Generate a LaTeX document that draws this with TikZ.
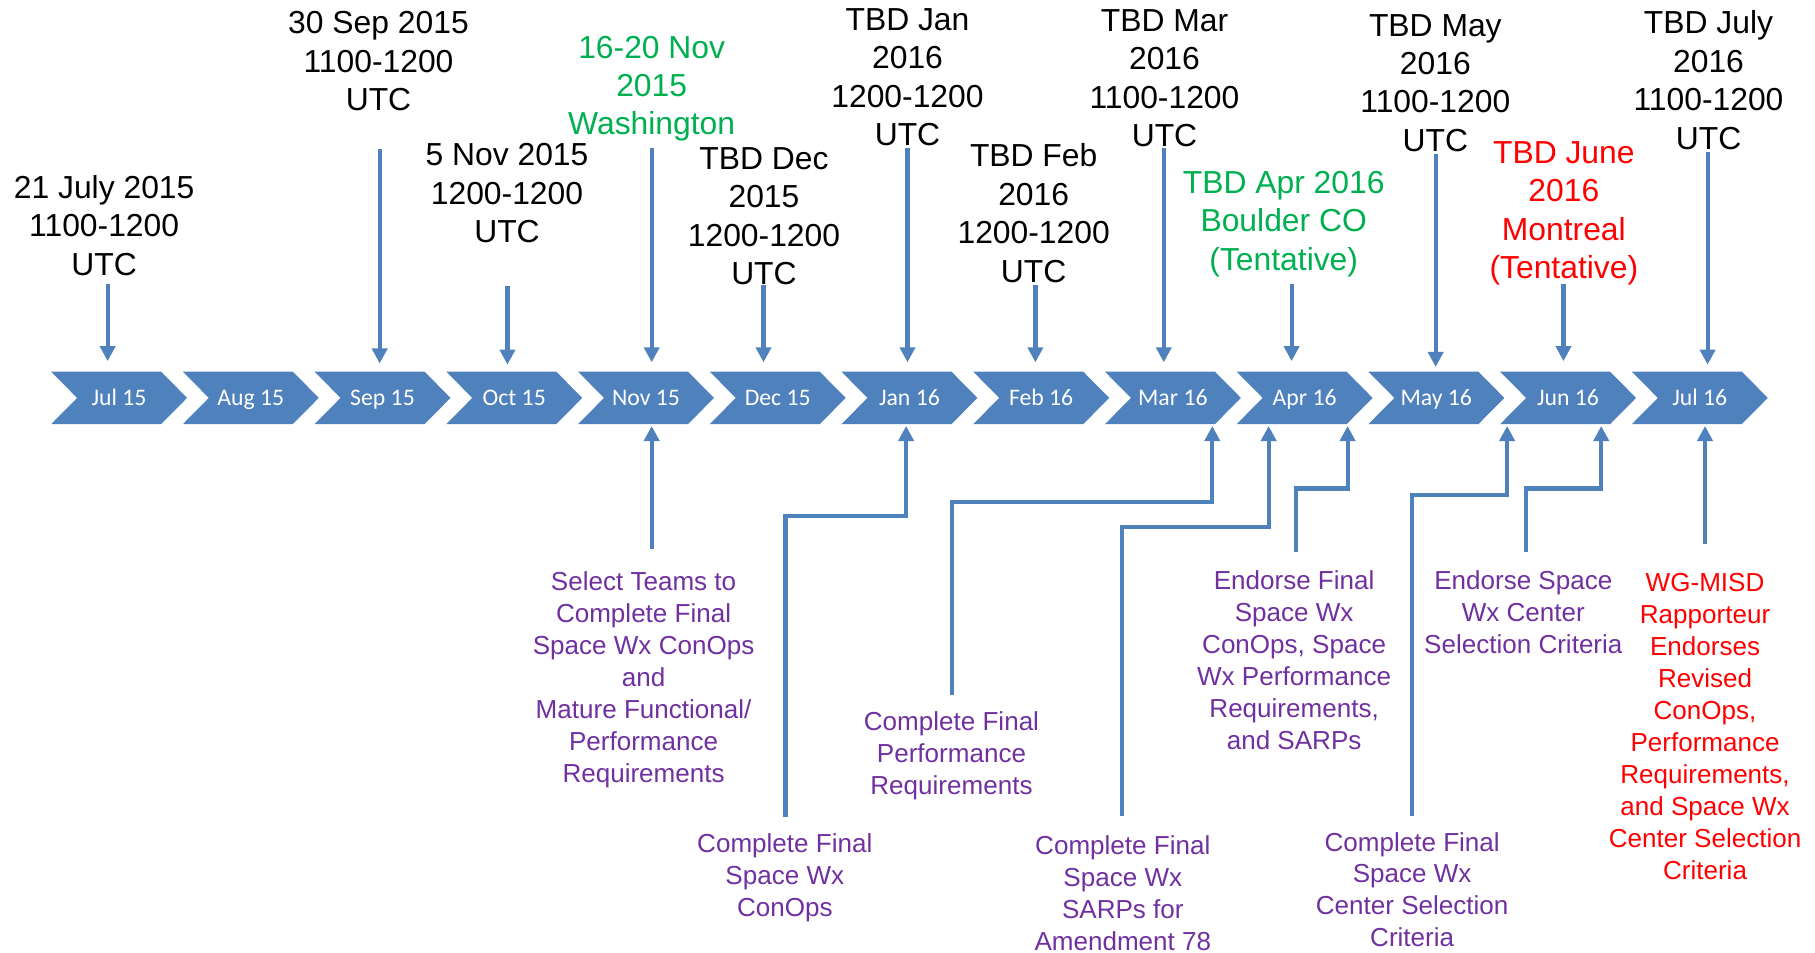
\documentclass[tikz,border=0pt]{standalone}
\usepackage{fontspec}
\setmainfont{Liberation Sans}
\newfontfamily\calib{Carlito}
\usetikzlibrary{arrows.meta}
\definecolor{cblue}{HTML}{4F81BD}
\definecolor{cpurple}{HTML}{7030A0}
\definecolor{cgreen}{HTML}{00B050}
\definecolor{cred}{HTML}{FF0000}
\newcommand{\fst}{\rule{0pt}{0.8em}}
\begin{document}
\begin{tikzpicture}[x=1pt,y=-1pt,
  toptxt/.style={align=center, inner sep=0pt, anchor=north, font=\fontsize{27.5}{33.2}\selectfont},
  bottxt/.style={align=center, inner sep=0pt, anchor=north, font=\fontsize{22.5}{27.6}\selectfont, text=cpurple},
  mon/.style={inner sep=0pt, anchor=base, text=white, font=\calib\fontsize{20.5}{24}\selectfont},
  chev/.style={fill=cblue},
  arr/.style={draw=cblue, line width=3.6pt, -{Triangle[width=13pt,length=13pt]}},
]
\useasboundingbox (0,0) rectangle (1568,823);

% chevrons
\foreach \k/\lab in {0/Jul 15,1/Aug 15,2/Sep 15,3/Oct 15,4/Nov 15,5/Dec 15,6/Jan 16,7/Feb 16,8/Mar 16,9/Apr 16,10/May 16,11/Jun 16,12/Jul 16}{
  \pgfmathsetmacro\L{44.1+113.8*\k}
  \fill[chev] (\L,321) -- (\L+95,321) -- (\L+117.5,343.75) -- (\L+95,366.5) -- (\L,366.5) -- (\L+22.5,343.75) -- cycle;
  \node[mon] (m\k) at (\L+58.75,350.4) {\lab};
}

% top texts
\node[toptxt] (d1) at (90,149) {\fst 21 July 2015\\1100-1200\\UTC};
\node[toptxt] (d2) at (327,7) {\fst 30 Sep 2015\\1100-1200\\UTC};
\node[toptxt] (d3) at (438,121) {\fst 5 Nov 2015\\1200-1200\\UTC};
\node[toptxt,text=cgreen] (d4) at (563,28) {\fst 16-20 Nov\\2015\\Washington};
\node[toptxt] (d5) at (660,124) {\fst TBD Dec\\2015\\1200-1200\\UTC};
\node[toptxt] (d6) at (784,4) {\fst TBD Jan\\2016\\1200-1200\\UTC};
\node[toptxt] (d7) at (893,122) {\fst TBD Feb\\2016\\1200-1200\\UTC};
\node[toptxt] (d8) at (1006,5) {\fst TBD Mar\\2016\\1100-1200\\UTC};
\node[toptxt,text=cgreen] (d9) at (1109,145) {\fst TBD Apr 2016\\Boulder CO\\(Tentative)};
\node[toptxt] (d10) at (1240,9) {\fst TBD May\\2016\\1100-1200\\UTC};
\node[toptxt,text=cred] (d11) at (1351,119) {\fst TBD June\\2016\\Montreal\\(Tentative)};
\node[toptxt] (d12) at (1476,7) {\fst TBD July\\2016\\1100-1200\\UTC};

% bottom texts
\node[bottxt] (e1) at (556,492) {\fst Select Teams to\\Complete Final\\Space Wx ConOps\\and\\Mature Functional/\\Performance\\Requirements};
\node[bottxt] (e2) at (678,718) {\fst Complete Final\\Space Wx\\ConOps};
\node[bottxt] (e3) at (822,613) {\fst Complete Final\\Performance\\Requirements};
\node[bottxt] (e4) at (970,720) {\fst Complete Final\\Space Wx\\SARPs for\\Amendment 78};
\node[bottxt] (e5) at (1118,491) {\fst Endorse Final\\Space Wx\\ConOps, Space\\Wx Performance\\Requirements,\\and SARPs};
\node[bottxt] (e6) at (1220,717) {\fst Complete Final\\Space Wx\\Center Selection\\Criteria};
\node[bottxt] (e7) at (1316,491) {\fst Endorse Space\\Wx Center\\Selection Criteria};
\node[bottxt,text=cred] (e8) at (1473,493) {\fst WG-MISD\\Rapporteur\\Endorses\\Revised\\ConOps,\\Performance\\Requirements,\\and Space Wx\\Center Selection\\Criteria};

% top arrow coordinates
\coordinate (a1s) at (93,245);     \coordinate (a1e) at (93,312);
\coordinate (a2s) at (328,129);    \coordinate (a2e) at (328,314);
\coordinate (a3s) at (438.4,247);  \coordinate (a3e) at (438.4,315);
\coordinate (a4s) at (563,128);    \coordinate (a4e) at (563,313);
\coordinate (a5s) at (659.6,246);  \coordinate (a5e) at (659.6,313);
\coordinate (a6s) at (784,128);    \coordinate (a6e) at (784,313);
\coordinate (a7s) at (894.5,246);  \coordinate (a7e) at (894.5,313);
\coordinate (a8s) at (1005.4,128); \coordinate (a8e) at (1005.4,313);
\coordinate (a9s) at (1115.8,245); \coordinate (a9e) at (1115.8,312);
\coordinate (a10s) at (1240.3,133);\coordinate (a10e) at (1240.3,317);
\coordinate (a11s) at (1350.7,245);\coordinate (a11e) at (1350.7,312);
\coordinate (a12s) at (1475.2,131);\coordinate (a12e) at (1475.2,315);
\foreach \i in {1,...,12}{\draw[arr] (a\i s) -- (a\i e);}

% bottom arrow coordinates
\coordinate (b1s) at (563,474);    \coordinate (b1e) at (563,368);
\coordinate (b2s) at (678.6,706);  \coordinate (b2m) at (782.8,445.5);  \coordinate (b2e) at (782.8,368);
\coordinate (b3s) at (822.1,600);  \coordinate (b3m) at (1047.3,433.4); \coordinate (b3e) at (1047.3,368);
\coordinate (b4s) at (969.2,705);  \coordinate (b4m) at (1096,455.5);   \coordinate (b4e) at (1096,368);
\coordinate (b5s) at (1119.5,477); \coordinate (b5m) at (1164.2,422);   \coordinate (b5e) at (1164.2,368);
\coordinate (b6s) at (1220,705);   \coordinate (b6m) at (1302,427.5);   \coordinate (b6e) at (1302,368);
\coordinate (b7s) at (1318,477);   \coordinate (b7m) at (1383.3,422);   \coordinate (b7e) at (1383.3,368);
\coordinate (b8s) at (1473,470);   \coordinate (b8e) at (1473,368);

\draw[arr] (b1s) -- (b1e);
\foreach \i in {2,...,7}{\draw[arr] (b\i s) |- (b\i m) -- (b\i e);}
\draw[arr] (b8s) -- (b8e);
\end{tikzpicture}
\end{document}
